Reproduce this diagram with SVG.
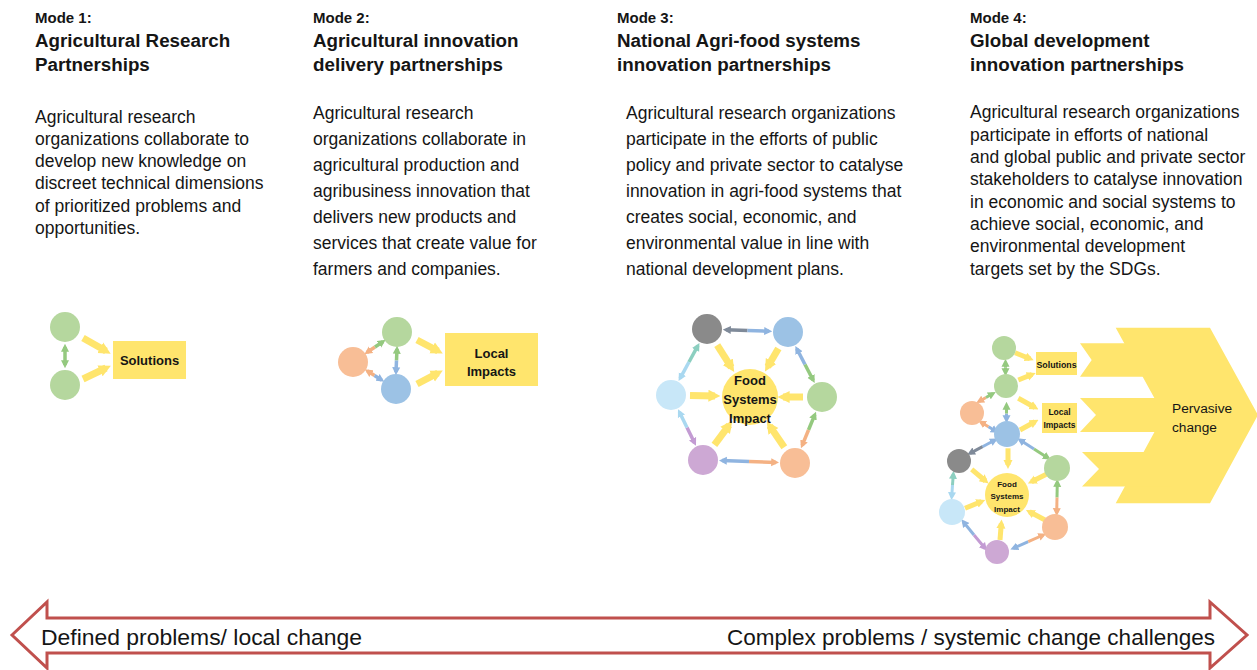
<svg xmlns="http://www.w3.org/2000/svg" width="1257" height="670" viewBox="0 0 1257 670">
<style>
text{font-family:"Liberation Sans",Arial,sans-serif;fill:#151515}
.mode{font-size:15px;font-weight:bold}
.title{font-size:18.8px;font-weight:bold}
.body{font-size:17.5px}
.lbl{font-weight:bold;text-anchor:middle}
.yl{stroke:#FFE56D;stroke-width:7;fill:none;marker-end:url(#ay)}
.ys{stroke:#FFE56D;stroke-width:5;fill:none;marker-end:url(#ays)}
.s{stroke-width:3.5;fill:none}
.m4 .s{stroke-width:3}
.g{stroke:#94C97F;marker-end:url(#ag)}
.b{stroke:#8FB4E0;marker-end:url(#ab)}
.o{stroke:#F4B183;marker-end:url(#ao)}
.k{stroke:#7F8A99;marker-end:url(#ak)}
.p{stroke:#C39BD3;marker-end:url(#ap)}
.l{stroke:#A9D8F0;marker-end:url(#al)}
.t{stroke:#8CCFC0;marker-end:url(#at)}
.cg{fill:#B5D79E}.co{fill:#F8BE96}.cb{fill:#9CC2E5}.ck{fill:#8A8A8A}.cl{fill:#C8E7F8}.cp{fill:#CDA8D4}.cy{fill:#FFE56D}
</style>
<defs>
<marker id="ay" viewBox="0 0 10 10" refX="5.5" refY="5" markerWidth="12" markerHeight="16" markerUnits="userSpaceOnUse" orient="auto"><path d="M0,0L10,5L0,10z" fill="#FFE56D"/></marker>
<marker id="ays" viewBox="0 0 10 10" refX="5.5" refY="5" markerWidth="9" markerHeight="12" markerUnits="userSpaceOnUse" orient="auto"><path d="M0,0L10,5L0,10z" fill="#FFE56D"/></marker>
<marker id="ag" viewBox="0 0 10 10" refX="6" refY="5" markerWidth="8" markerHeight="9" markerUnits="userSpaceOnUse" orient="auto"><path d="M0,0L10,5L0,10z" fill="#94C97F"/></marker>
<marker id="ab" viewBox="0 0 10 10" refX="6" refY="5" markerWidth="8" markerHeight="9" markerUnits="userSpaceOnUse" orient="auto"><path d="M0,0L10,5L0,10z" fill="#8FB4E0"/></marker>
<marker id="ao" viewBox="0 0 10 10" refX="6" refY="5" markerWidth="8" markerHeight="9" markerUnits="userSpaceOnUse" orient="auto"><path d="M0,0L10,5L0,10z" fill="#F4B183"/></marker>
<marker id="ak" viewBox="0 0 10 10" refX="6" refY="5" markerWidth="8" markerHeight="9" markerUnits="userSpaceOnUse" orient="auto"><path d="M0,0L10,5L0,10z" fill="#7F8A99"/></marker>
<marker id="ap" viewBox="0 0 10 10" refX="6" refY="5" markerWidth="8" markerHeight="9" markerUnits="userSpaceOnUse" orient="auto"><path d="M0,0L10,5L0,10z" fill="#C39BD3"/></marker>
<marker id="al" viewBox="0 0 10 10" refX="6" refY="5" markerWidth="8" markerHeight="9" markerUnits="userSpaceOnUse" orient="auto"><path d="M0,0L10,5L0,10z" fill="#A9D8F0"/></marker>
<marker id="at" viewBox="0 0 10 10" refX="6" refY="5" markerWidth="8" markerHeight="9" markerUnits="userSpaceOnUse" orient="auto"><path d="M0,0L10,5L0,10z" fill="#8CCFC0"/></marker>
</defs>
<rect width="1257" height="670" fill="#FFFFFF"/>

<!-- Column texts -->
<g id="mode1-text">
<text class="mode" x="35" y="22.5">Mode 1:</text>
<text class="title" x="35" y="46.5">Agricultural Research</text>
<text class="title" x="35" y="71">Partnerships</text>
<text class="body" x="35" y="122.5">Agricultural research</text>
<text class="body" x="35" y="144.5">organizations collaborate to</text>
<text class="body" x="35" y="166.5">develop new knowledge on</text>
<text class="body" x="35" y="189">discreet technical dimensions</text>
<text class="body" x="35" y="211.5">of prioritized problems and</text>
<text class="body" x="35" y="233.5">opportunities.</text>
</g>
<g id="mode2-text">
<text class="mode" x="313" y="22.5">Mode 2:</text>
<text class="title" x="313" y="46.5">Agricultural innovation</text>
<text class="title" x="313" y="71">delivery partnerships</text>
<text class="body" x="313" y="119">Agricultural research</text>
<text class="body" x="313" y="145">organizations collaborate in</text>
<text class="body" x="313" y="171">agricultural production and</text>
<text class="body" x="313" y="197">agribusiness innovation that</text>
<text class="body" x="313" y="223">delivers new products and</text>
<text class="body" x="313" y="249">services that create value for</text>
<text class="body" x="313" y="275">farmers and companies.</text>
</g>
<g id="mode3-text">
<text class="mode" x="617" y="22.5">Mode 3:</text>
<text class="title" x="617" y="46.5">National Agri-food systems</text>
<text class="title" x="617" y="71">innovation partnerships</text>
<text class="body" x="626" y="119">Agricultural research organizations</text>
<text class="body" x="626" y="145">participate in the efforts of public</text>
<text class="body" x="626" y="171">policy and private sector to catalyse</text>
<text class="body" x="626" y="197">innovation in agri-food systems that</text>
<text class="body" x="626" y="223">creates social, economic, and</text>
<text class="body" x="626" y="249">environmental value in line with</text>
<text class="body" x="626" y="275">national development plans.</text>
</g>
<g id="mode4-text">
<text class="mode" x="970" y="22.5">Mode 4:</text>
<text class="title" x="970" y="46.5">Global development</text>
<text class="title" x="970" y="71">innovation partnerships</text>
<text class="body" x="970" y="118">Agricultural research organizations</text>
<text class="body" x="970" y="140.5">participate in efforts of national</text>
<text class="body" x="970" y="162.5">and global public and private sector</text>
<text class="body" x="970" y="185">stakeholders to catalyse innovation</text>
<text class="body" x="970" y="207.5">in economic and social systems to</text>
<text class="body" x="970" y="230">achieve social, economic, and</text>
<text class="body" x="970" y="252">environmental development</text>
<text class="body" x="970" y="274.5">targets set by the SDGs.</text>
</g>

<!-- Pervasive change shape -->
<g id="pervasive-change">
<polygon class="cy" points="1115.7,327.7 1210,327.7 1258,415 1210,503.3 1115.7,503.3 1163.7,415"/>
<polygon class="cy" points="1080,343.3 1172,343.3 1172,376.7 1080,376.7 1091.7,360"/>
<polygon class="cy" points="1080,398 1172,398 1172,432 1080,432 1096,415"/>
<polygon class="cy" points="1082,452 1172,452 1172,486.5 1082,486.5 1099,469"/>
<text x="1172" y="413" font-size="13.7">Pervasive</text>
<text x="1172" y="431.5" font-size="13.7">change</text>
</g>

<!-- Connectors -->
<g id="connectors">
<!-- mode 1 -->
<line class="s g" x1="65" y1="356" x2="65" y2="347"/>
<line class="s g" x1="65" y1="356" x2="65" y2="365"/>
<line class="yl" x1="83" y1="338" x2="106" y2="351"/>
<line class="yl" x1="83" y1="379" x2="106" y2="368"/>
<!-- mode 2 -->
<line class="s o" x1="375" y1="347" x2="367" y2="352.4"/>
<line class="s g" x1="375" y1="347" x2="383" y2="341.6"/>
<line class="s o" x1="374.5" y1="375.5" x2="367.4" y2="371"/>
<line class="s b" x1="374.5" y1="375.5" x2="381.6" y2="380"/>
<line class="s g" x1="396.5" y1="360.5" x2="397" y2="349"/>
<line class="s b" x1="396.5" y1="360.5" x2="396" y2="372"/>
<line class="yl" x1="417" y1="340" x2="438" y2="351"/>
<line class="yl" x1="417" y1="384" x2="438" y2="373"/>
<!-- mode 3 -->
<line class="s k" x1="747.5" y1="330.5" x2="726" y2="329.7"/>
<line class="s b" x1="747.5" y1="330.5" x2="769" y2="331.3"/>
<line class="s b" x1="805" y1="364.5" x2="796.8" y2="348.8"/>
<line class="s g" x1="805" y1="364.5" x2="813.2" y2="380.2"/>
<line class="s g" x1="808.5" y1="430" x2="814.8" y2="414.6"/>
<line class="s o" x1="808.5" y1="430" x2="802.2" y2="445.4"/>
<line class="s o" x1="749" y1="461.5" x2="776" y2="462.4"/>
<line class="s b" x1="749" y1="461.5" x2="722" y2="460.6"/>
<line class="s p" x1="687" y1="427.5" x2="694.6" y2="443"/>
<line class="s l" x1="687" y1="427.5" x2="679.4" y2="412"/>
<line class="s l" x1="689" y1="362" x2="680.1" y2="378.3"/>
<line class="s t" x1="689" y1="362" x2="697.9" y2="345.7"/>
<line class="yl" x1="717.2" y1="345.1" x2="731.3" y2="367.4"/>
<line class="yl" x1="778.4" y1="348.4" x2="767.7" y2="366.8"/>
<line class="yl" x1="803" y1="397" x2="783" y2="397"/>
<line class="yl" x1="784.3" y1="447.3" x2="769.7" y2="425.9"/>
<line class="yl" x1="714.4" y1="444.8" x2="729.1" y2="425.1"/>
<line class="yl" x1="690" y1="395.5" x2="715" y2="396"/>
<!-- mode 4 -->
<g class="m4">
<line class="s g" x1="1005.5" y1="367.5" x2="1005.5" y2="362"/>
<line class="s g" x1="1005.5" y1="367.5" x2="1005.5" y2="373"/>
<line class="s o" x1="986" y1="397.5" x2="979" y2="401.5"/>
<line class="s g" x1="986" y1="397.5" x2="993" y2="393.5"/>
<line class="s o" x1="988.5" y1="426.7" x2="981" y2="422.2"/>
<line class="s b" x1="988.5" y1="426.7" x2="996" y2="431.2"/>
<line class="s b" x1="1006.5" y1="413.5" x2="1006.5" y2="420"/>
<line class="s g" x1="1006.5" y1="413.5" x2="1006.5" y2="405"/>
<line class="s b" x1="982.5" y1="446.7" x2="995" y2="440"/>
<line class="s k" x1="982.5" y1="446.7" x2="970" y2="453.3"/>
<line class="s b" x1="1034" y1="449" x2="1020" y2="440"/>
<line class="s g" x1="1034" y1="449" x2="1048" y2="458"/>
<line class="s t" x1="952.5" y1="485" x2="953.3" y2="474"/>
<line class="s l" x1="952.5" y1="485" x2="951.7" y2="497"/>
<line class="s g" x1="1057" y1="497.5" x2="1057.3" y2="482"/>
<line class="s o" x1="1057" y1="497.5" x2="1056.7" y2="513"/>
<line class="s b" x1="974" y1="535" x2="963.3" y2="521.7"/>
<line class="s p" x1="974" y1="535" x2="985" y2="548.3"/>
<line class="s b" x1="1028.3" y1="541.7" x2="1013.3" y2="548.3"/>
<line class="s o" x1="1028.3" y1="541.7" x2="1043.3" y2="535"/>
</g>
<line class="ys" x1="1015" y1="352.7" x2="1030" y2="358.7"/>
<line class="ys" x1="1018.3" y1="380" x2="1032" y2="374.5"/>
<line class="ys" x1="1018.3" y1="398.3" x2="1035" y2="407.5"/>
<line class="ys" x1="1020" y1="430" x2="1035" y2="421.8"/>
<line class="ys" x1="1008" y1="448.3" x2="1008" y2="465"/>
<line class="ys" x1="971.7" y1="469.3" x2="985.5" y2="481"/>
<line class="ys" x1="1048.3" y1="473.3" x2="1031.5" y2="481.7"/>
<line class="ys" x1="965" y1="508.3" x2="981.5" y2="501.5"/>
<line class="ys" x1="1045" y1="520" x2="1029.5" y2="511.8"/>
<line class="ys" x1="1000" y1="540" x2="1001.3" y2="523.5"/>
</g>

<!-- Mode 1 nodes -->
<g id="m1-green-top"><circle class="cg" cx="65" cy="327" r="15"/></g>
<g id="m1-green-bottom"><circle class="cg" cx="65" cy="385" r="15"/></g>
<g id="m1-solutions"><rect class="cy" x="113" y="341" width="73" height="38"/><text class="lbl" x="149.5" y="364.5" font-size="13">Solutions</text></g>

<!-- Mode 2 nodes -->
<g id="m2-orange"><circle class="co" cx="353" cy="362" r="15"/></g>
<g id="m2-green"><circle class="cg" cx="397" cy="332" r="15"/></g>
<g id="m2-blue"><circle class="cb" cx="396" cy="389" r="15"/></g>
<g id="m2-local-impacts"><rect class="cy" x="445" y="333" width="93" height="53"/><text class="lbl" x="491.5" y="357.5" font-size="13">Local</text><text class="lbl" x="491.5" y="376" font-size="13">Impacts</text></g>

<!-- Mode 3 nodes -->
<g id="m3-gray"><circle class="ck" cx="707" cy="329" r="15"/></g>
<g id="m3-blue"><circle class="cb" cx="788" cy="332" r="15"/></g>
<g id="m3-green"><circle class="cg" cx="822" cy="397" r="15"/></g>
<g id="m3-orange"><circle class="co" cx="795" cy="463" r="15"/></g>
<g id="m3-purple"><circle class="cp" cx="703" cy="460" r="15"/></g>
<g id="m3-lightblue"><circle class="cl" cx="671" cy="395" r="15"/></g>
<g id="m3-food"><circle class="cy" cx="750" cy="397" r="28"/><text class="lbl" x="750" y="384.5" font-size="13">Food</text><text class="lbl" x="750" y="404" font-size="13">Systems</text><text class="lbl" x="750" y="422.5" font-size="13">Impact</text></g>

<!-- Mode 4 nodes -->
<g id="m4-green-top"><circle class="cg" cx="1004" cy="348" r="12"/></g>
<g id="m4-green-2"><circle class="cg" cx="1006" cy="386" r="12"/></g>
<g id="m4-orange"><circle class="co" cx="972" cy="413" r="12"/></g>
<g id="m4-blue"><circle class="cb" cx="1007" cy="434" r="13"/></g>
<g id="m4-gray"><circle class="ck" cx="959" cy="461" r="12"/></g>
<g id="m4-green-right"><circle class="cg" cx="1057" cy="468" r="13"/></g>
<g id="m4-lightblue"><circle class="cl" cx="952" cy="512" r="13"/></g>
<g id="m4-orange-right"><circle class="co" cx="1055" cy="527" r="13"/></g>
<g id="m4-purple"><circle class="cp" cx="997" cy="552" r="12"/></g>
<g id="m4-food"><circle class="cy" cx="1007" cy="495" r="22"/><text class="lbl" x="1007" y="486.5" font-size="8">Food</text><text class="lbl" x="1007" y="499" font-size="8">Systems</text><text class="lbl" x="1007" y="511.5" font-size="8">Impact</text></g>
<g id="m4-solutions"><rect class="cy" x="1036" y="352" width="41" height="23"/><text class="lbl" x="1056.5" y="368" font-size="8.8">Solutions</text></g>
<g id="m4-local-impacts"><rect class="cy" x="1042" y="403" width="35" height="30"/><text class="lbl" x="1059.5" y="414.5" font-size="8.5">Local</text><text class="lbl" x="1059.5" y="427.5" font-size="8.5">Impacts</text></g>

<!-- Bottom double arrow -->
<g id="scale-arrow">
<polygon points="12,635 47,602 47,618 1210,618 1210,602 1247,635 1210,668 1210,653 47,653 47,668" fill="#FFFFFF" stroke="#C0504D" stroke-width="3" stroke-linejoin="miter"/>
<text x="41" y="645" font-size="22" textLength="321" lengthAdjust="spacingAndGlyphs">Defined problems/ local change</text>
<text x="727" y="645" font-size="22" textLength="488" lengthAdjust="spacingAndGlyphs">Complex problems / systemic change challenges</text>
</g>
</svg>
